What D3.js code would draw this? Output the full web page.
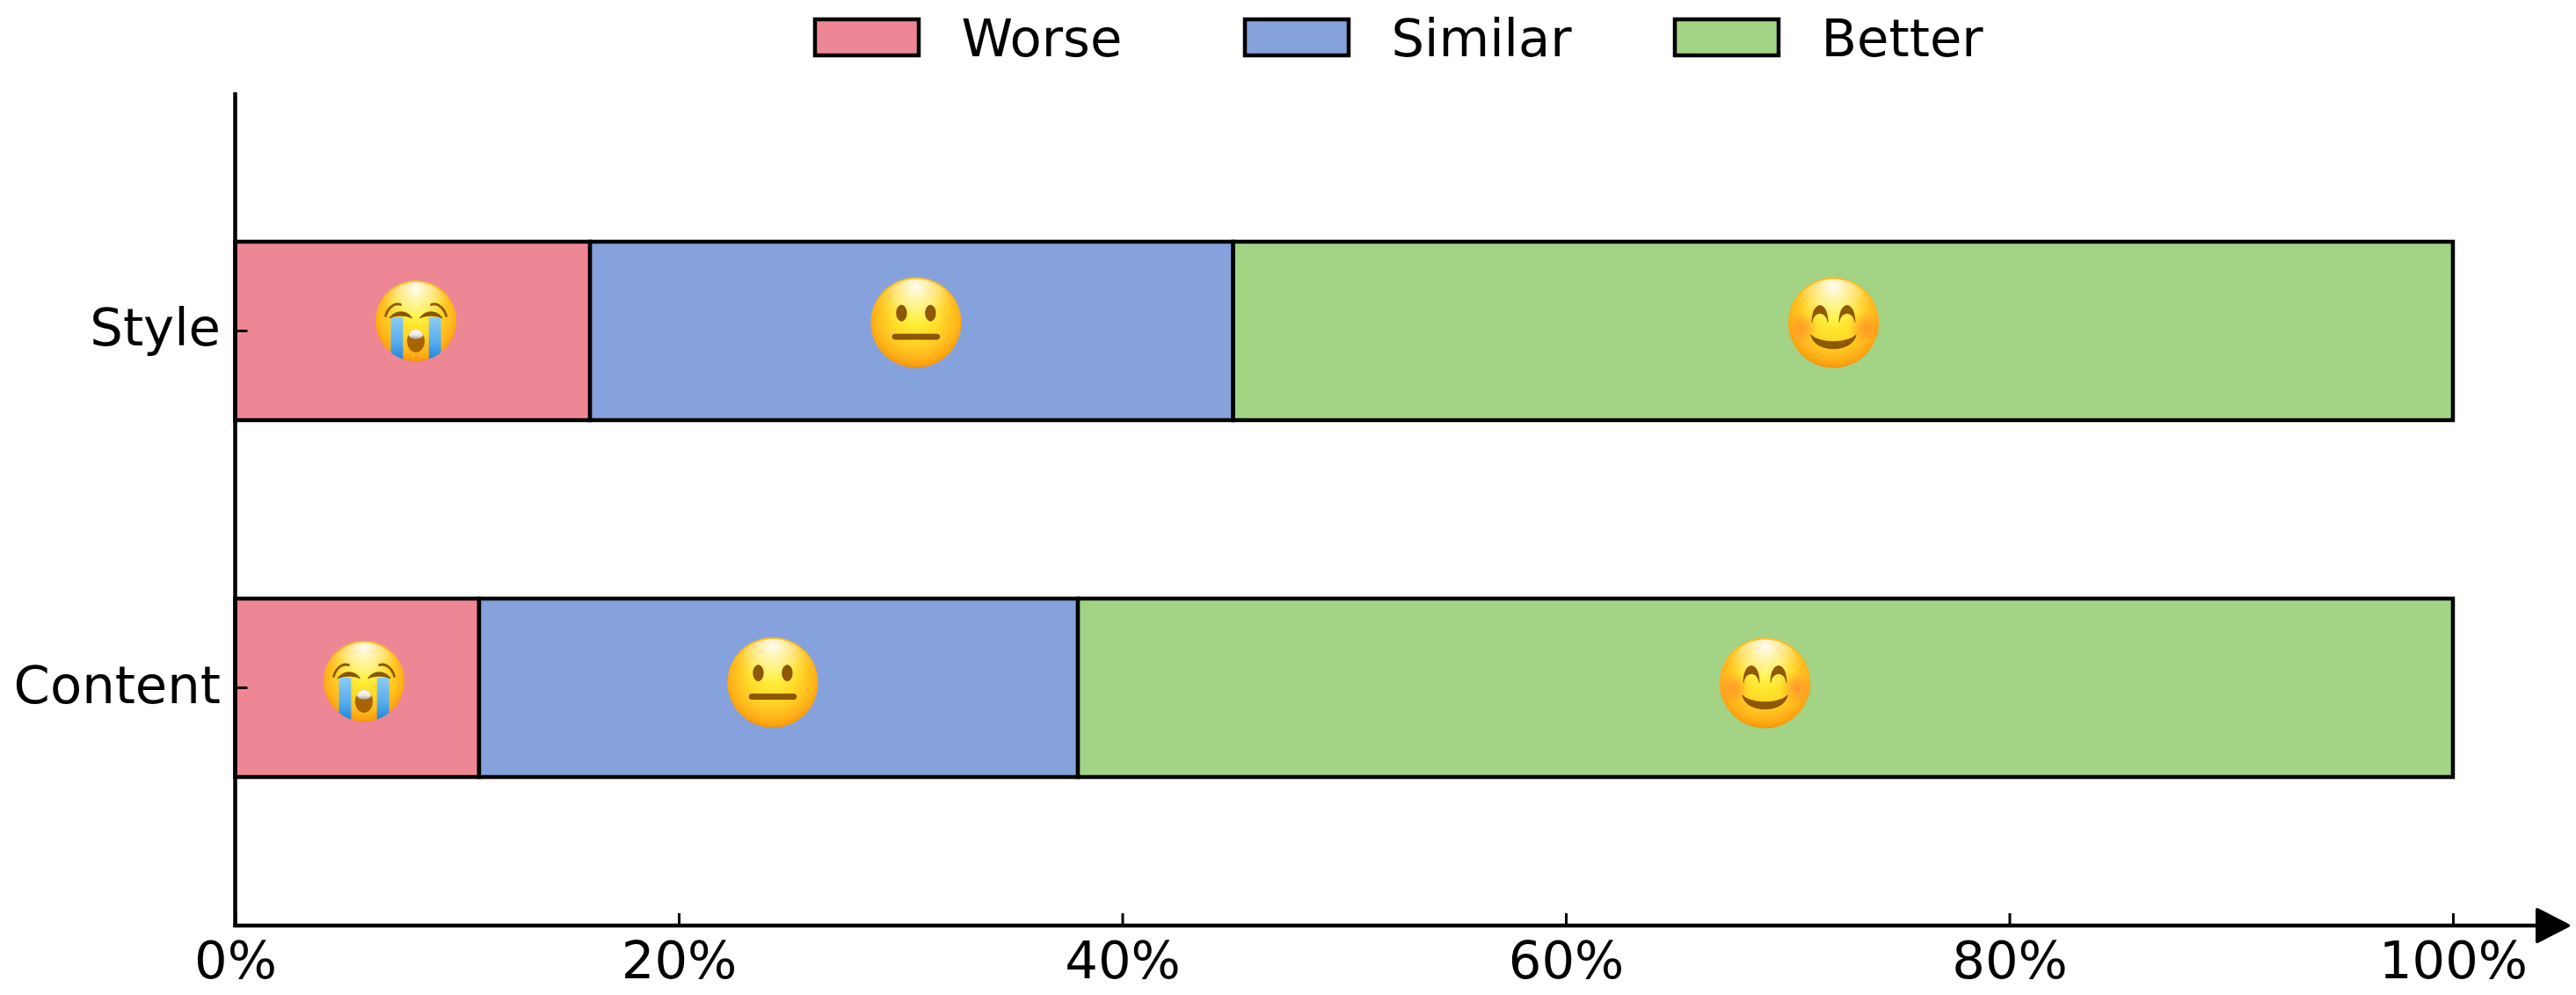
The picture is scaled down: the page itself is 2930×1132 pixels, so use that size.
<!DOCTYPE html>
<html><head><meta charset="utf-8">
<script src="https://cdn.jsdelivr.net/npm/d3@7/dist/d3.min.js"></script>
<style>html,body{margin:0;background:#fff}svg{display:block}text{font-family:"DejaVu Sans";fill:#000}</style>
</head><body><svg id="c" width="2930" height="1132"></svg>
<script>
const categories = ["Style", "Content"];
const seriesNames = ["Worse", "Similar", "Better"];
const worse = [16, 11];
const similar = [29, 27];
const better = [55, 62];
const seriesColors = ["#EE8795", "#85A2DC", "#A3D385"];
const xTicks = [0, 20, 40, 60, 80, 100];
const emojiKinds = ["cry", "neutral", "smile"];
const emojiAtStyle = [8.15, 30.7, 72.07];
const emojiAtContent = [5.81, 24.24, 68.98];

const svg = d3.select("#c");
const x = d3.scaleLinear().domain([0, 100]).range([267.5, 2790]);
const y = d3.scaleBand().domain(categories).range([105, 1054]).paddingInner(0.5).paddingOuter(0.4187);
const SW = 4.5;
const FS = 59.2;
const defs = svg.append("defs");

function grad(id, stops, o) {
  const g = defs.append("radialGradient").attr("id", id);
  Object.entries(o).forEach(([k, v]) => g.attr(k, v));
  stops.forEach(s => g.append("stop").attr("offset", s[0]).attr("stop-color", s[1]).attr("stop-opacity", s[2] ?? 1));
}
grad("face", [[0, "#FFF23A"], [0.45, "#FFDB28"], [0.78, "#FFB71C"], [0.94, "#FB9F0E"], [1, "#F08800"]], {cx: 0.5, cy: 0.43, r: 0.58});
grad("shine", [[0, "#FFFFFF", 0.95], [0.55, "#FFFFD0", 0.45], [1, "#FFF23A", 0]], {cx: 0.5, cy: 0.08, r: 0.5});
grad("blush", [[0, "#FF8A2A", 0.75], [1, "#FF8A2A", 0]], {cx: 0.5, cy: 0.5, r: 0.5});
const tearG = defs.append("linearGradient").attr("id", "tear").attr("x1", 0).attr("x2", 0).attr("y1", 0).attr("y2", 1);
[[0, "#8CCBF2"], [0.55, "#58AEEC"], [1, "#1C7EDB"]].forEach(s => tearG.append("stop").attr("offset", s[0]).attr("stop-color", s[1]));
const toothG = defs.append("linearGradient").attr("id", "tooth").attr("x1", 0).attr("x2", 0).attr("y1", 0).attr("y2", 1);
[[0, "#FFFFFF"], [0.6, "#EDE8E0"], [1, "#A89C8E"]].forEach(s => toothG.append("stop").attr("offset", s[0]).attr("stop-color", s[1]));
defs.append("clipPath").attr("id", "faceClip").append("circle").attr("r", 1);
defs.append("clipPath").attr("id", "mouthClip").append("ellipse").attr("cy", 0.5).attr("rx", 0.22).attr("ry", 0.28);

const BROWN = "#8F5804";
function drawEmoji(kind, cx, cy, r) {
  const g = svg.append("g").attr("transform", `translate(${cx},${cy}) scale(${r})`);
  g.append("circle").attr("r", 1).attr("fill", "url(#face)");
  g.append("circle").attr("r", 0.96).attr("fill", "url(#shine)");
  if (kind === "neutral") {
    [-0.32, 0.32].forEach(dx => g.append("ellipse").attr("cx", dx).attr("cy", -0.21).attr("rx", 0.11).attr("ry", 0.175).attr("fill", BROWN).attr("stroke", "#6B3F00").attr("stroke-width", 0.015));
    g.append("rect").attr("x", -0.52).attr("y", 0.255).attr("width", 1.04).attr("height", 0.115).attr("rx", 0.055).attr("fill", BROWN).attr("stroke", "#6B3F00").attr("stroke-width", 0.015);
  } else if (kind === "smile") {
    [-0.7, 0.7].forEach(dx => g.append("circle").attr("cx", dx).attr("cy", 0.12).attr("r", 0.36).attr("fill", "url(#blush)"));
    [-1, 1].forEach(s => g.append("path").attr("transform", `translate(${s * 0.3},0)`)
      .attr("d", "M-.175,-.01 C-.18,-.5 .18,-.5 .175,-.01 C.13,-.27 -.13,-.27 -.175,-.01 Z").attr("fill", BROWN).attr("stroke", "#6B3F00").attr("stroke-width", 0.01));
    g.append("path").attr("d", "M-.5,.27 C-.3,.47 .3,.47 .5,.27 C.42,.68 -.42,.68 -.5,.27 Z").attr("fill", BROWN).attr("stroke", "#6B3F00").attr("stroke-width", 0.012);
  } else {
    const tears = g.append("g").attr("clip-path", "url(#faceClip)");
    [-1, 1].forEach(s => {
      tears.append("rect").attr("x", s < 0 ? -0.62 : 0.32).attr("y", -0.09).attr("width", 0.3).attr("height", 1.1).attr("fill", "url(#tear)");
      g.append("path").attr("d", `M${s * 0.1},-.07 C${s * 0.22},-.27 ${s * 0.52},-.27 ${s * 0.65},-.07 C${s * 0.5},-.15 ${s * 0.25},-.15 ${s * 0.1},-.07 Z`).attr("fill", BROWN).attr("stroke", "#6B3F00").attr("stroke-width", 0.02);
      g.append("path").attr("d", `M${s * 0.38},-.4 C${s * 0.55},-.46 ${s * 0.7},-.3 ${s * 0.75},-.12`).attr("fill", "none").attr("stroke", BROWN).attr("stroke-width", 0.06).attr("stroke-linecap", "round");
    });
    g.append("ellipse").attr("cy", 0.5).attr("rx", 0.22).attr("ry", 0.28).attr("fill", "#A86400");
    g.append("ellipse").attr("cy", 0.33).attr("rx", 0.19).attr("ry", 0.12).attr("fill", "url(#tooth)").attr("clip-path", "url(#mouthClip)");
  }
}

// stacked bars
const table = categories.map((c, i) => ({category: c, Worse: worse[i], Similar: similar[i], Better: better[i]}));
const stacked = d3.stack().keys(seriesNames)(table);
svg.append("g").selectAll("g").data(stacked).join("g").attr("fill", (d, i) => seriesColors[i])
  .selectAll("rect").data(d => d).join("rect")
  .attr("x", d => x(d[0])).attr("y", d => y(d.data.category))
  .attr("width", d => x(d[1]) - x(d[0])).attr("height", y.bandwidth())
  .attr("stroke", "#000").attr("stroke-width", SW);

// emojis
const styleLift = {cry: 11.5, neutral: 9.5, smile: 9.5};
const contentLift = {cry: 7.5, neutral: 6, smile: 5.5};
emojiKinds.forEach((k, i) => {
  const rr = k === "cry" ? 46 : 51.5;
  drawEmoji(k, x(emojiAtStyle[i]), y("Style") + y.bandwidth() / 2 - styleLift[k], rr);
  drawEmoji(k, x(emojiAtContent[i]), y("Content") + y.bandwidth() / 2 - contentLift[k], rr);
});

// axes
const xAxis = d3.axisBottom(x).tickValues(xTicks).tickSize(-14).tickPadding(0).tickFormat(d => d + "%");
const gx = svg.append("g").attr("transform", "translate(0,1053)").call(xAxis);
gx.select(".domain").remove();
gx.selectAll("line").attr("stroke", "#000").attr("stroke-width", 3);
gx.selectAll("text").attr("font-size", FS).attr("font-family", "DejaVu Sans").attr("dy", null).attr("y", 60).attr("fill", "#000");

const yAxis = d3.axisLeft(y).tickSize(-14).tickPadding(0);
const gy = svg.append("g").attr("transform", "translate(267.5,0)").call(yAxis);
gy.select(".domain").remove();
gy.selectAll("line").attr("stroke", "#000").attr("stroke-width", 3);
gy.selectAll("text").attr("font-size", FS).attr("font-family", "DejaVu Sans").attr("dy", null).attr("x", -16.5).attr("y", 17).attr("fill", "#000");

svg.append("line").attr("x1", x(0)).attr("x2", x(0)).attr("y1", y.range()[0]).attr("y2", 1055).attr("stroke", "#000").attr("stroke-width", SW);
svg.append("line").attr("x1", x(0) - 2).attr("x2", 2890).attr("y1", 1053).attr("y2", 1053).attr("stroke", "#000").attr("stroke-width", SW);
svg.append("path").attr("d", d3.line()([[2886, 1035], [2921, 1053], [2886, 1071]]) + "Z").attr("fill", "#000").attr("stroke", "#000").attr("stroke-width", 4).attr("stroke-linejoin", "round");

// legend
const legendX = d3.scalePoint().domain(seriesNames).range([927, 1905]);
const lg = svg.append("g").selectAll("g").data(seriesNames).join("g").attr("transform", d => `translate(${legendX(d)},0)`);
lg.append("rect").attr("y", 22).attr("width", 118).attr("height", 41).attr("fill", (d, i) => seriesColors[i]).attr("stroke", "#000").attr("stroke-width", SW);
lg.append("text").text(d => d).attr("x", 166.5).attr("y", 64).attr("font-size", FS);
</script></body></html>
